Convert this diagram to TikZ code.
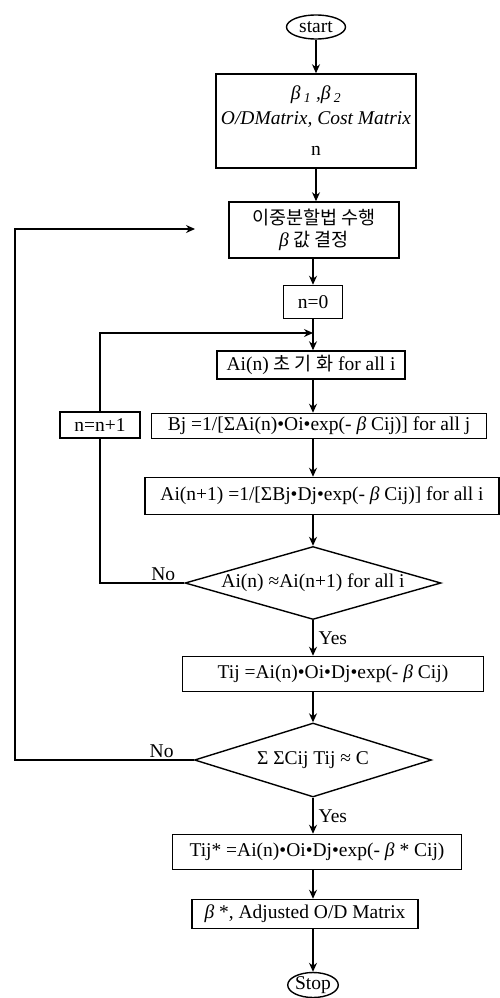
\documentclass[tikz,border=0pt]{standalone}
\usepackage{fontspec}
\setmainfont{Liberation Serif}
\newfontfamily\kr{Noto Sans CJK KR}[Scale=0.95]
\usepackage{tikz}
\usetikzlibrary{shapes.geometric, arrows.meta, positioning, calc}

\tikzset{
  procbox/.style={draw, line width=1.5pt, inner sep=0pt, align=center},
  termnode/.style={draw, ellipse, line width=1.4pt, inner sep=0pt},
  decnode/.style={draw, diamond, line width=1.4pt, inner sep=0pt, aspect=3.5},
  flowarrow/.style={line width=1.3pt, -{Stealth[length=9pt,width=8pt]}},
  flowline/.style={line width=1.3pt},
  lbl/.style={inner sep=2pt}
}
\newcommand{\bt}{{\itshape β}}

\begin{document}
\begin{tikzpicture}[x=1pt, y=-1pt, font=\fontsize{19.5}{22}\selectfont]
        \useasboundingbox[fill=white] (0,0) rectangle (500,998);
        % main column
        \node[termnode, minimum width=59pt, minimum height=24pt] (start) at (316,27) {start};
        \node[procbox, minimum width=200pt, minimum height=94pt] (in) at (316,121) {
            {\itshape β\,\textsubscript{1} ,β\,\textsubscript{2}}\\[3pt]
            {\itshape O/DMatrix, Cost Matrix}\\[9pt]
            n};
        \node[procbox, minimum width=170pt, minimum height=56pt] (bis) at (314,230) {
            {\kr 이중분할법 수행}\\
            \bt\ {\kr 값 결정}};
        \node[procbox, minimum width=59pt, minimum height=33pt] (n0) at (313,302) {n=0};
        \coordinate (jn) at (313,333);
        \node[procbox, minimum width=188pt, minimum height=28pt] (init) at (311,365) {Ai(n) {\kr 초 기 화} for all i};
        \node[procbox, minimum width=80pt, minimum height=26pt] (nn) at (100,425) {n=n+1};
        \node[procbox, minimum width=335pt, minimum height=25pt] (bj) at (319,426) {Bj =1/[ΣAi(n)•Oi•exp(- \bt\ Cij)] for all j};
        \node[procbox, minimum width=354pt, minimum height=37pt] (an1) at (322,496) {Ai(n+1) =1/[ΣBj•Dj•exp(- \bt\ Cij)] for all i};
        \node[decnode, minimum width=256pt, minimum height=73pt] (d1) at (313,583) {Ai(n) ≈Ai(n+1) for all i};
        \node[procbox, minimum width=301pt, minimum height=35pt] (tij) at (333,674) {Tij =Ai(n)•Oi•Dj•exp(- \bt\ Cij)};
        \node[decnode, minimum width=237pt, minimum height=74pt] (d2) at (313,760) {Σ ΣCij Tij ≈ C};
        \node[procbox, minimum width=289pt, minimum height=35pt] (tijs) at (317,852) {Tij* =Ai(n)•Oi•Dj•exp(- \bt\ * Cij)};
        \node[procbox, minimum width=226pt, minimum height=29pt] (beta) at (305,914) {\bt\ *, Adjusted O/D Matrix};
        \node[termnode, minimum width=50pt, minimum height=25pt] (stop) at (313,985) {Stop};
        \coordinate (back) at (15,229);
        \coordinate (bisin) at (195,229);

        \draw[flowarrow] (start) -- (start |- in.north);
        \draw[flowarrow] (start |- in.south) -- (start |- bis.north);
        \draw[flowarrow] (n0 |- bis.south) -- (n0.north);
        \draw[flowarrow] (n0.south) -- (n0.south |- init.north);
        \draw[flowarrow] (n0.south |- init.south) -- (n0.south |- bj.north);
        \draw[flowarrow] (d1.north |- bj.south) -- (d1.north |- an1.north);
        \draw[flowarrow] (d1.north |- an1.south) -- (d1.north);
        \draw[flowarrow] (d1.south) -- node[lbl, right=3pt] (yes1) {Yes} (d1.south |- tij.north);
        \draw[flowarrow] (d1.south |- tij.south) -- (d2.north);
        \draw[flowarrow] (d2.south) -- node[lbl, right=3pt] (yes2) {Yes} (d2.south |- tijs.north);
        \draw[flowarrow] (d2.south |- tijs.south) -- (d2.south |- beta.north);
        \draw[flowarrow] (stop.north |- beta.south) -- (stop.north);

        % loops back
        \draw[flowline] (d1.west) -- node[lbl, above, pos=.25] (no1) {No} (d1.west -| nn.south) -- (nn.south);
        \draw[flowarrow] (nn.north) -- (nn.north |- jn) -- (jn);
        \draw[flowarrow] (d2.west) -- node[lbl, above, pos=.18] (no2) {No} (d2.west -| back) -- (back) -- (bisin);
    \end{tikzpicture}
\end{document}
